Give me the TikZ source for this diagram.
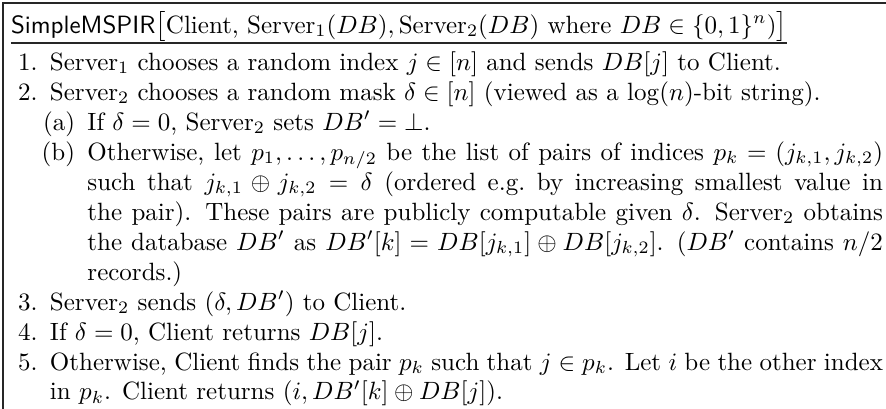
\documentclass[tikz,border=0pt]{standalone}
\usepackage{amsmath}
\usepackage{enumitem}
\begin{document}
\begin{tikzpicture}[x=1pt,y=1pt,
  frameline/.style={line width=0.5pt, draw=black!85},
  plain/.style={inner sep=0pt, outer sep=0pt}]
\useasboundingbox (0,0) rectangle (354.4,-163.6);
\coordinate (tl) at (1.2,-1.2);
\coordinate (tr) at (354.4,-1.2);
\coordinate (bl) at (1.2,-163.6);
\coordinate (ul) at (0,-17.2);
\draw[frameline] (bl) -- (tl) -- (tr);
\node[plain, anchor=base west] (title) at (4.4,-13.2)
  {\textsf{SimpleMSPIR}$\big[\text{Client, }\text{Server}_1(DB),\text{Server}_2(DB)\text{ where }DB\in\{0,1\}^n)\big]$};
\draw[frameline] (title.west |- ul) -- (title.east |- ul);
\node[plain, anchor=north west] (body) at (0,-20.5) {\begin{minipage}{353.2pt}
\begin{enumerate}[leftmargin=20pt,labelsep=5pt,nosep]
\item Server$_1$ chooses a random index $j\in[n]$ and sends $DB[j]$ to Client.
\item Server$_2$ chooses a random mask $\delta\in[n]$ (viewed as a $\log(n)$-bit string).
  \begin{enumerate}[label=(\alph*),leftmargin=15pt,labelsep=5pt,nosep]
  \item If $\delta=0$, Server$_2$ sets $DB'=\bot$.
  \item Otherwise, let $p_1,\ldots,p_{n/2}$ be the list of pairs of indices $p_k=(j_{k,1},j_{k,2})$ such that $j_{k,1}\oplus j_{k,2}=\delta$ (ordered e.g.\ by increasing smallest value in the pair). These pairs are publicly computable given $\delta$. Server$_2$ obtains the database $DB'$ as $DB'[k]=DB[j_{k,1}]\oplus DB[j_{k,2}]$. ($DB'$ contains $n/2$ records.)
  \end{enumerate}
\item Server$_2$ sends $(\delta,DB')$ to Client.
\item If $\delta=0$, Client returns $DB[j]$.
\item Otherwise, Client finds the pair $p_k$ such that $j\in p_k$. Let $i$ be the other index in $p_k$. Client returns $(i,DB'[k]\oplus DB[j])$.
\end{enumerate}
\end{minipage}};
\end{tikzpicture}
\end{document}
